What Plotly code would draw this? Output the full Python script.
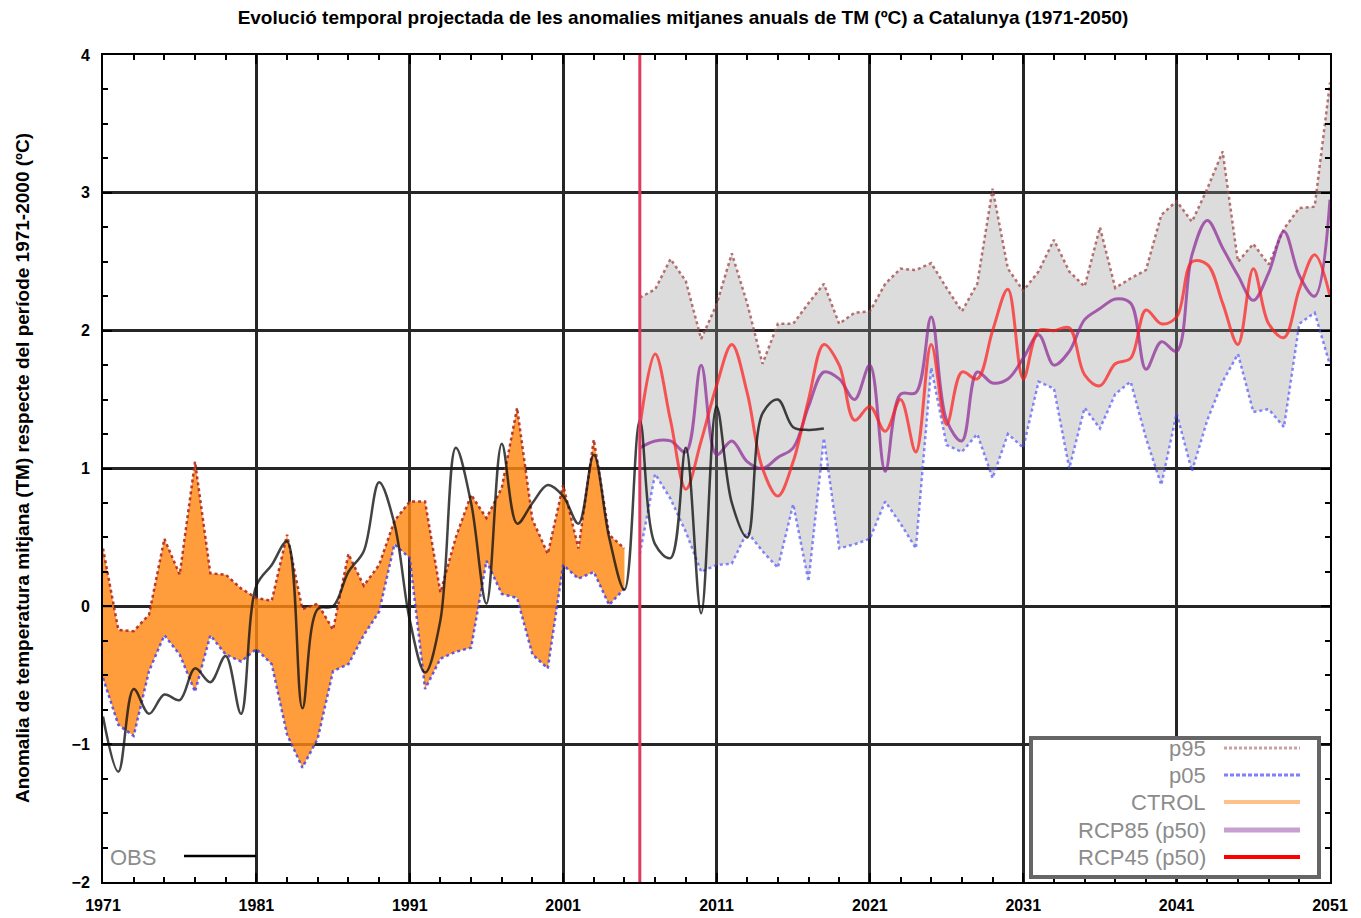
import plotly.graph_objects as go

# ---------------- data ----------------
hist_years = list(range(1971, 2006))
hist_p95 = [0.42, -0.17, -0.18, -0.06, 0.49, 0.23, 1.05, 0.24, 0.23, 0.13,
            0.06, 0.04, 0.52, -0.02, 0.02, -0.17, 0.38, 0.15, 0.30, 0.62,
            0.76, 0.76, 0.10, 0.50, 0.81, 0.64, 0.86, 1.44, 0.63, 0.38,
            0.88, 0.42, 1.21, 0.52, 0.42]
hist_p05 = [-0.52, -0.86, -0.94, -0.47, -0.21, -0.35, -0.62, -0.21, -0.35, -0.40,
            -0.31, -0.42, -0.93, -1.17, -0.96, -0.47, -0.42, -0.21, -0.04, 0.45,
            0.35, -0.60, -0.38, -0.33, -0.30, 0.33, 0.09, 0.06, -0.35, -0.45,
            0.30, 0.20, 0.25, 0.01, 0.13]

proj_years = list(range(2006, 2052))
proj_p95 = [2.24, 2.30, 2.52, 2.36, 1.94, 2.19, 2.56, 2.20, 1.76, 2.05,
            2.05, 2.20, 2.34, 2.05, 2.13, 2.14, 2.34, 2.45, 2.44, 2.49,
            2.31, 2.14, 2.34, 3.03, 2.45, 2.29, 2.43, 2.66, 2.43, 2.32,
            2.75, 2.31, 2.38, 2.44, 2.84, 2.94, 2.79, 3.03, 3.30, 2.50,
            2.63, 2.48, 2.74, 2.89, 2.90, 3.80]
proj_p05 = [0.38, 0.96, 0.78, 0.54, 0.25, 0.30, 0.31, 0.54, 0.40, 0.28,
            0.74, 0.18, 1.22, 0.42, 0.45, 0.49, 0.76, 0.60, 0.42, 1.73,
            1.17, 1.12, 1.25, 0.93, 1.25, 1.15, 1.63, 1.58, 1.00, 1.44,
            1.29, 1.54, 1.63, 1.22, 0.88, 1.40, 0.98, 1.35, 1.63, 1.83,
            1.41, 1.43, 1.30, 2.05, 2.13, 1.75]
rcp85_p50 = [1.15, 1.20, 1.20, 1.12, 1.75, 1.10, 1.20, 1.05, 1.00, 1.08,
             1.15, 1.45, 1.70, 1.65, 1.50, 1.75, 0.98, 1.54, 1.55, 2.10,
             1.35, 1.20, 1.70, 1.62, 1.65, 1.80, 1.97, 1.75, 1.85, 2.08,
             2.16, 2.23, 2.20, 1.72, 1.92, 1.85, 2.55, 2.80, 2.60, 2.40,
             2.22, 2.42, 2.72, 2.40, 2.25, 2.95]
rcp45_p50 = [1.30, 1.83, 1.35, 0.85, 1.20, 1.60, 1.90, 1.55, 1.00, 0.80,
             1.05, 1.50, 1.90, 1.75, 1.35, 1.45, 1.27, 1.50, 1.12, 1.90,
             1.32, 1.70, 1.65, 2.00, 2.30, 1.65, 2.00, 2.00, 2.02, 1.68,
             1.60, 1.76, 1.80, 2.15, 2.05, 2.10, 2.50, 2.48, 2.20, 1.90,
             2.45, 2.05, 1.95, 2.30, 2.55, 2.25]

obs_years = list(range(1971, 2019))
obs = [-0.80, -1.20, -0.60, -0.78, -0.64, -0.68, -0.45, -0.55, -0.36, -0.78,
       0.15, 0.30, 0.47, -0.74, -0.02, 0.00, 0.25, 0.40, 0.90, 0.60,
       -0.10, -0.48, -0.10, 1.15, 0.75, 0.02, 1.18, 0.60, 0.75, 0.88,
       0.80, 0.60, 1.10, 0.50, 0.12, 1.35, 0.45, 0.35, 1.15, -0.05,
       1.45, 0.75, 0.50, 1.40, 1.50, 1.30, 1.28, 1.29]

split_year = 2006
x_range = [1971, 2051]
y_range = [-2, 4]
x_ticks = list(range(1971, 2052, 10))
y_ticks = [-2, -1, 0, 1, 2, 3, 4]
y_ticklabels = ["\u22122", "\u22121", "0", "1", "2", "3", "4"]

title_text = ("Evolució temporal projectada de les anomalies mitjanes anuals "
              "de TM (ºC) a Catalunya (1971-2050)")
ylabel_text = "Anomalia de temperatura mitjana (TM) respecte del període 1971-2000 (ºC)"

legend_labels = ["p95", "p05", "CTROL", "RCP85 (p50)", "RCP45 (p50)"]
obs_label = "OBS"

# ---------------- figure ----------------
FONT = "Liberation Sans"
OFF = 8                      # page body margin in the browser
W, H = 1361, 918
# target plot-area edges in window pixels
L, R, T, B = 103, 1330, 55, 882

fig = go.Figure()

# historical band (CTROL p05-p95)
fig.add_trace(go.Scatter(x=hist_years, y=hist_p05, mode="lines",
                         line=dict(width=0, color="rgba(0,0,0,0)"),
                         showlegend=False, hoverinfo="skip"))
fig.add_trace(go.Scatter(x=hist_years, y=hist_p95, mode="lines", fill="tonexty",
                         fillcolor="rgba(255,136,17,0.82)",
                         line=dict(width=0, color="rgba(0,0,0,0)"),
                         showlegend=False, hoverinfo="skip"))
# projection band
fig.add_trace(go.Scatter(x=proj_years, y=proj_p05, mode="lines",
                         line=dict(width=0, color="rgba(0,0,0,0)"),
                         showlegend=False, hoverinfo="skip"))
fig.add_trace(go.Scatter(x=proj_years, y=proj_p95, mode="lines", fill="tonexty",
                         fillcolor="rgba(150,150,150,0.33)",
                         line=dict(width=0, color="rgba(0,0,0,0)"),
                         showlegend=False, hoverinfo="skip"))

# percentile lines
fig.add_trace(go.Scatter(x=hist_years, y=hist_p95, mode="lines",
                         line=dict(color="rgba(170,30,30,0.85)", width=2.5, dash="3px,3px"),
                         showlegend=False))
fig.add_trace(go.Scatter(x=hist_years, y=hist_p05, mode="lines",
                         line=dict(color="rgba(60,60,240,0.8)", width=2.5, dash="3px,3px"),
                         showlegend=False))
fig.add_trace(go.Scatter(x=proj_years, y=proj_p95, mode="lines",
                         line=dict(color="rgba(160,70,70,0.75)", width=2.5, dash="3px,3px"),
                         showlegend=False))
fig.add_trace(go.Scatter(x=proj_years, y=proj_p05, mode="lines",
                         line=dict(color="rgba(60,60,255,0.6)", width=2.5, dash="3px,3px"),
                         showlegend=False))

# medians
fig.add_trace(go.Scatter(x=proj_years, y=rcp85_p50, mode="lines",
                         line=dict(color="rgba(140,40,150,0.72)", width=3, shape="spline"),
                         showlegend=False))
fig.add_trace(go.Scatter(x=proj_years, y=rcp45_p50, mode="lines",
                         line=dict(color="rgba(255,30,30,0.72)", width=3, shape="spline"),
                         showlegend=False))
# observations
fig.add_trace(go.Scatter(x=obs_years, y=obs, mode="lines",
                         line=dict(color="rgba(20,20,20,0.8)", width=2.5, shape="spline"),
                         showlegend=False))

fig.add_vline(x=split_year, line=dict(color="rgb(222,60,95)", width=3))

# ---------------- custom legend (paper coords) ----------------
def px(x):
    return (x - L) / (R - L)

def py(y):
    return (B - y) / (B - T)

fig.add_shape(type="rect", xref="paper", yref="paper",
              x0=px(1031), x1=px(1319), y0=py(877), y1=py(738),
              line=dict(color="#666", width=4), fillcolor="white", layer="above")

leg_styles = [
    dict(color="#c9a3a3", width=3, dash="3px,2px"),
    dict(color="#7f7fff", width=3, dash="4px,2px"),
    dict(color="#ffc08a", width=4),
    dict(color="#c79fd0", width=5),
    dict(color="#ff0000", width=4),
]
leg_y = [748, 775, 802, 830, 857]
for lab, sty, yy in zip(legend_labels, leg_styles, leg_y):
    fig.add_annotation(xref="paper", yref="paper", x=px(1208), y=py(yy),
                       text=lab, showarrow=False, xanchor="right", yanchor="middle",
                       font=dict(family=FONT, size=22, color="#8c8c8c"))
    fig.add_shape(type="line", xref="paper", yref="paper",
                  x0=px(1224), x1=px(1300), y0=py(yy), y1=py(yy),
                  line=sty, layer="above")

fig.add_annotation(xref="paper", yref="paper", x=px(108), y=py(857),
                   text=obs_label, showarrow=False, xanchor="left", yanchor="middle",
                   font=dict(family=FONT, size=22, color="#8c8c8c"))
fig.add_shape(type="line", xref="paper", yref="paper",
              x0=px(184), x1=px(256), y0=py(856), y1=py(856),
              line=dict(color="black", width=2.5), layer="above")

# y label
fig.add_annotation(xref="paper", yref="paper", x=px(22), y=py(468),
                   text=ylabel_text, textangle=-90, showarrow=False,
                   xanchor="center", yanchor="middle",
                   font=dict(family=FONT, size=19, color="black", weight="bold"))

axis_common = dict(showline=True, linecolor="black", linewidth=2, mirror="allticks",
                   ticks="inside", ticklen=9, tickwidth=2, tickcolor="black",
                   showgrid=True, gridcolor="#262626", gridwidth=2.5, zeroline=False,
                   ticklabelstandoff=8,
                   tickfont=dict(family=FONT, size=16, color="black", weight="bold"))

fig.update_layout(
    width=W, height=H,
    margin=dict(l=L - OFF, r=W + OFF - R, t=T - OFF, b=H + OFF - B),
    paper_bgcolor="white", plot_bgcolor="white",
    showlegend=False,
    title=dict(text=title_text, x=(683 - OFF) / W, xref="container", xanchor="center",
               y=1 - (17 - OFF) / H, yref="container", yanchor="middle",
               font=dict(family=FONT, size=19, color="black", weight="bold")),
    xaxis=dict(range=x_range, tickmode="array", tickvals=x_ticks,
               minor=dict(tick0=1971, dtick=2, ticks="inside", ticklen=5,
                          tickcolor="black", tickwidth=2, showgrid=False),
               **axis_common),
    yaxis=dict(range=y_range, tickmode="array", tickvals=y_ticks, ticktext=y_ticklabels,
               minor=dict(tick0=0, dtick=0.25, ticks="inside", ticklen=5,
                          tickcolor="black", tickwidth=2, showgrid=False),
               **axis_common),
)

fig.write_html("out.html")
